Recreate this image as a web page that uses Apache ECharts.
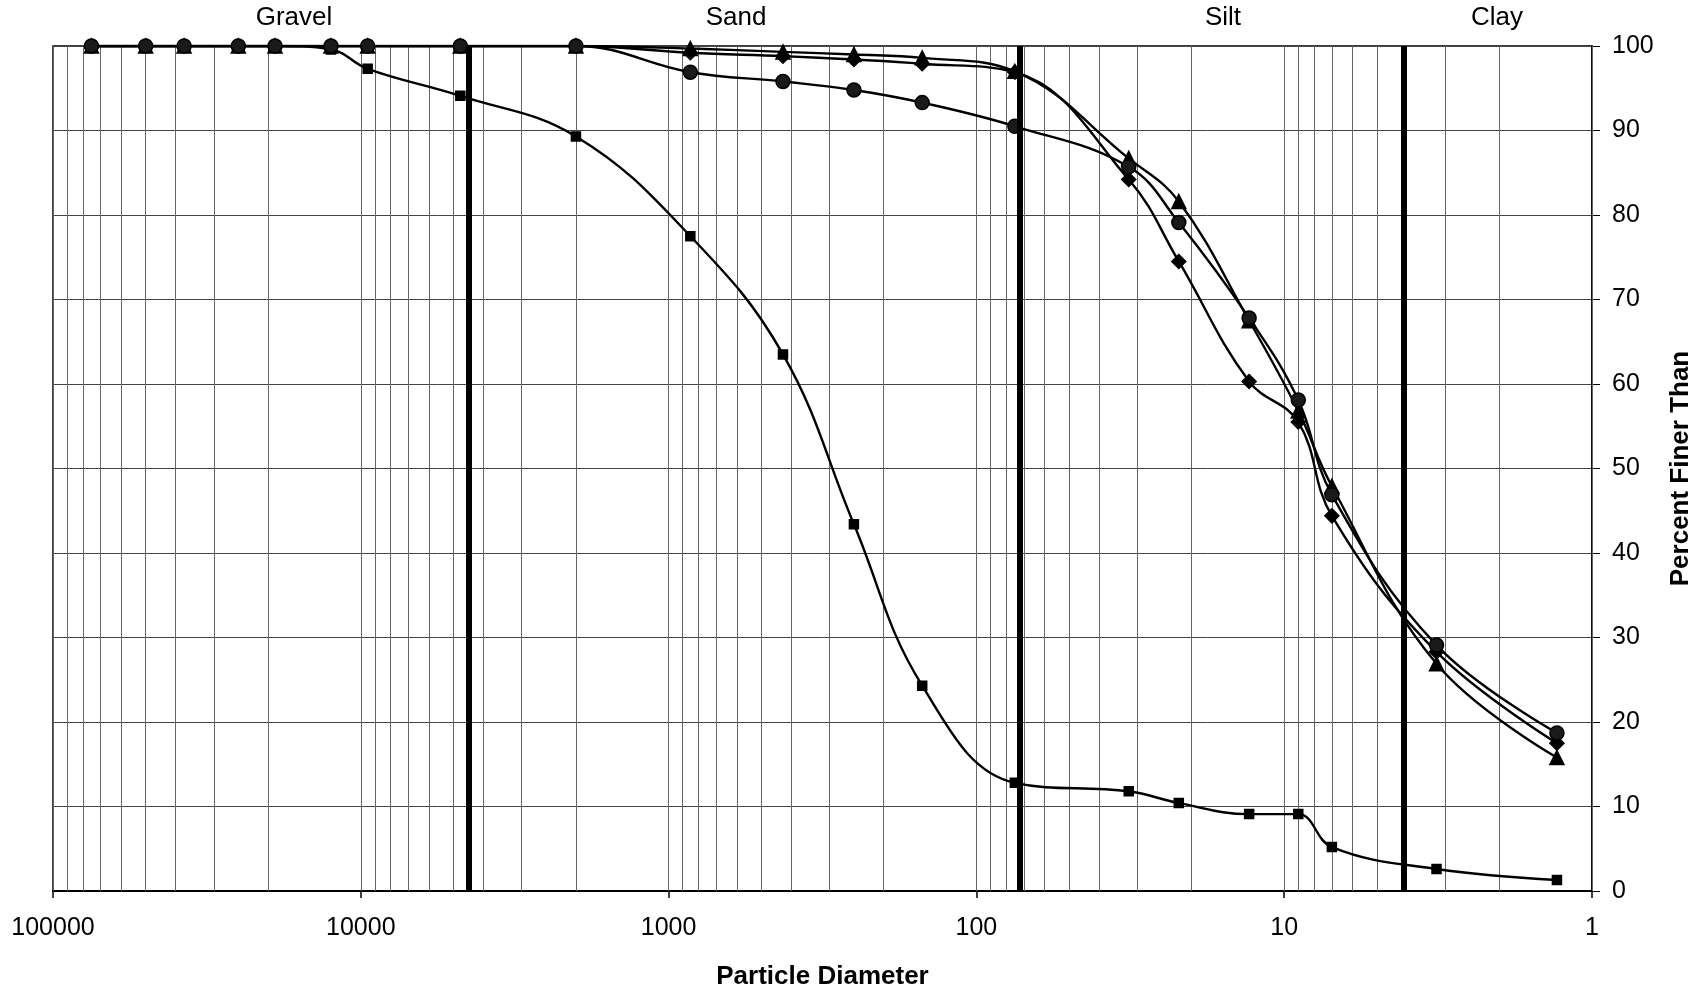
<!DOCTYPE html>
<html>
<head>
<meta charset="utf-8">
<style>
  html, body { margin: 0; padding: 0; background: #fff; }
  #main { width: 1708px; height: 992px; }
</style>
<script src="https://cdn.jsdelivr.net/npm/echarts@6/dist/echarts.min.js"></script>
</head>
<body>
<div id="main"></div>
<script>
// particle diameter (um): sieve sizes, then hydrometer readings
const diameters = [75000, 50000, 37500, 25000, 19000, 12500, 9500, 4750, 2000, 850, 425, 250, 150, 75, 32, 22, 13, 9, 7, 3.2, 1.3];

// percent finer than, one array per sample
const diamondPct  = [100, 100, 100, 100, 100, 100, 100, 100, 100, 99.2, 98.8, 98.4, 97.9, 96.9, 84.2, 74.5, 60.3, 55.5, 44.4, 28.3, 17.5];
const squarePct   = [100, 100, 100, 100, 100, 99.6, 97.3, 94.1, 89.3, 77.5, 63.5, 43.4, 24.3, 12.8, 11.8, 10.4, 9.1, 9.1, 5.2, 2.6, 1.3];
const trianglePct = [100, 100, 100, 100, 100, 100, 100, 100, 100, 99.7, 99.3, 99.0, 98.6, 97.0, 86.7, 81.6, 67.5, 56.8, 47.9, 26.9, 15.8];
const circlePct   = [100, 100, 100, 100, 100, 100, 100, 100, 100, 96.9, 95.8, 94.8, 93.3, 90.5, 85.7, 79.1, 67.8, 58.1, 46.9, 29.1, 18.7];

// class boundaries drawn as heavy lines, and the class names above the plot
const boundaries = [4450, 72.5, 4.1];
const classNames = ['Gravel', 'Sand', 'Silt', 'Clay'];
const classLabelX = [294, 736, 1223, 1497];

const yTicks = [0, 10, 20, 30, 40, 50, 60, 70, 80, 90, 100];

// log grid: 1..9 in every decade
const gridLines = [];
for (let e = 0; e < 5; e++) {
  for (let k = 1; k <= 9; k++) gridLines.push(k * Math.pow(10, e));
}
gridLines.push(100000);

const FONT = '"Liberation Sans", Arial, sans-serif';

function pairs(ys) {
  return diameters.map((d, i) => [d, ys[i]]);
}

function sampleSeries(name, ys, symbol, size, fill) {
  return {
    name: name,
    type: 'line',
    data: pairs(ys),
    smooth: 0.4,
    symbol: symbol,
    symbolSize: size,
    showSymbol: true,
    lineStyle: { color: '#000', width: 2.4 },
    itemStyle: { color: fill, borderColor: '#000', borderWidth: 1.5 },
    z: 3
  };
}

const chart = echarts.init(document.getElementById('main'));

const option = {
  backgroundColor: '#fff',
  animation: false,
  textStyle: { fontFamily: FONT, color: '#000' },
  grid: {
    left: 53,
    right: 116,
    top: 46,
    bottom: 101,
    show: true,
    borderColor: '#000',
    borderWidth: 1.5,
    outerBoundsMode: 'none'
  },
  graphic: classNames.map((t, i) => ({
    type: 'text',
    x: classLabelX[i],
    y: 18,
    style: {
      text: t,
      font: '26px ' + FONT,
      fill: '#000',
      align: 'center',
      verticalAlign: 'middle'
    }
  })),
  xAxis: {
    type: 'log',
    logBase: 10,
    min: 1,
    max: 100000,
    inverse: true,
    name: 'Particle Diameter',
    nameLocation: 'middle',
    nameGap: 73,
    nameTextStyle: { fontSize: 26, fontWeight: 'bold', color: '#000', fontFamily: FONT },
    axisLine: { show: true, onZero: false, lineStyle: { color: '#000', width: 2 } },
    axisTick: { show: true, length: 7, lineStyle: { color: '#000', width: 1.5 } },
    axisLabel: {
      margin: 25,
      fontSize: 25,
      color: '#000',
      fontFamily: FONT,
      formatter: v => String(Math.round(v))
    },
    splitLine: { show: false },
    minorTick: { show: false },
    minorSplitLine: { show: false }
  },
  yAxis: {
    type: 'value',
    position: 'right',
    min: 0,
    max: 100,
    interval: 10,
    name: 'Percent Finer Than',
    nameLocation: 'middle',
    nameRotate: 90,
    nameGap: 76,
    nameTextStyle: { fontSize: 26, fontWeight: 'bold', color: '#000', fontFamily: FONT },
    axisLine: { show: true, lineStyle: { color: '#000', width: 1.5 } },
    axisTick: { show: true, length: 8, lineStyle: { color: '#000', width: 1 } },
    axisLabel: {
      margin: 20,
      fontSize: 25,
      color: '#000',
      fontFamily: FONT,
      customValues: yTicks
    },
    splitLine: { show: true, lineStyle: { color: '#444', width: 1 } }
  },
  series: [
    {
      name: 'grid',
      type: 'line',
      data: [],
      silent: true,
      markLine: {
        silent: true,
        z: 1,
        symbol: ['none', 'none'],
        label: { show: false },
        lineStyle: { color: '#666', width: 1, type: 'solid' },
        data: gridLines.map(v => ({ xAxis: v }))
      }
    },
    {
      name: 'bounds',
      type: 'line',
      data: [],
      silent: true,
      markLine: {
        silent: true,
        z: 6,
        symbol: ['none', 'none'],
        label: { show: false },
        lineStyle: { color: '#000', width: 6, type: 'solid' },
        data: boundaries.map(v => ({ xAxis: v }))
      }
    },
    sampleSeries('Diamond', diamondPct, 'diamond', 14, '#000'),
    sampleSeries('Square', squarePct, 'rect', 9, '#000'),
    sampleSeries('Triangle', trianglePct, 'triangle', 14, '#000'),
    sampleSeries('Circle', circlePct, 'circle', 14, '#1a1a1a')
  ]
};

chart.setOption(option);
</script>
</body>
</html>
